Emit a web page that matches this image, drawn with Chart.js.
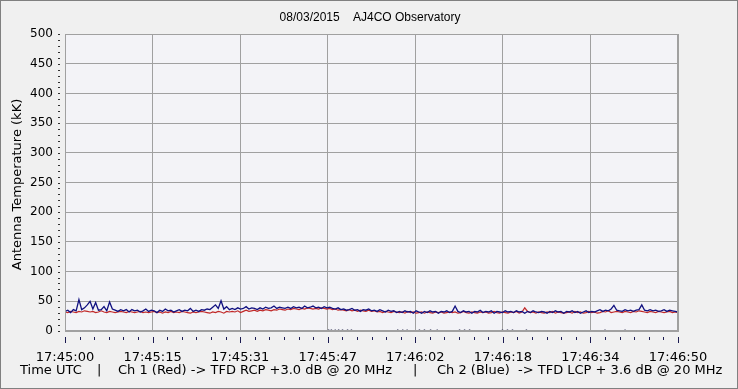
<!DOCTYPE html>
<html>
<head>
<meta charset="utf-8">
<script src="https://cdn.jsdelivr.net/npm/chart.js@4/dist/chart.umd.min.js"></script>
<style>
  html,body{margin:0;padding:0;background:#f0f0f0;}
  canvas{display:block;}
</style>
</head>
<body>
<canvas id="chart" width="738" height="389"></canvas>
<script>
// --------- данные ---------
const TITLE='08/03/2015    AJ4CO Observatory';
const Y_TITLE='Antenna Temperature (kK)';
const TIME_LABELS=['17:45:00','17:45:15','17:45:31','17:45:47','17:46:02','17:46:18','17:46:34','17:46:50'];
const SPAN=110;      // секунд на оси
const STEP=0.5;      // шаг выборки, с
const Y_MAX=500, Y_STEP=50;

// Ch 2 (Blue) LCP
const BLUE=[
 33,35,31,36,34,53,36,39,44,50,
 37,48,35,36,41,34,49,37,35,33,
 36,34,36,32,36,34,35,32,34,37,
 33,35,34,31,35,33,37,34,35,32,
 34,36,33,35,34,38,33,35,33,36,
 35,37,36,40,44,38,51,37,41,36,
 38,36,39,37,38,41,37,39,38,36,
 39,37,40,38,39,42,38,40,39,38,
 40,38,41,39,40,38,42,39,40,42,
 39,40,38,41,39,40,38,37,39,36,
 37,35,36,38,35,36,33,36,35,37,
 34,35,33,36,34,32,35,33,34,31,
 33,31,34,32,33,30,34,32,30,33,
 31,34,32,33,30,33,32,34,31,33,
 42,33,31,34,32,33,30,33,32,35,
 31,33,32,34,30,33,32,31,34,32,
 33,31,34,32,33,30,33,31,34,32,
 31,33,32,30,33,31,34,32,33,30,
 33,32,34,31,33,30,32,34,31,33,
 32,34,36,33,35,34,37,43,35,34,
 33,36,34,35,33,35,36,44,35,34,
 36,34,35,33,34,36,33,35,34,33,
 32
];
// Ch 1 (Red) RCP
const RED=[
 32,31,33,32,31,33,32,34,33,32,
 33,31,32,34,32,31,33,32,31,32,
 33,32,31,33,32,31,32,33,31,32,
 31,32,33,31,32,30,32,31,33,31,
 32,31,33,32,31,30,32,31,32,33,
 32,31,30,32,31,33,32,30,33,32,
 33,32,34,31,33,35,33,34,35,33,
 35,34,36,35,34,36,35,37,36,35,
 37,36,38,37,36,38,37,39,38,37,
 38,37,39,38,37,38,36,37,35,36,
 35,34,36,34,35,33,35,34,33,35,
 33,34,32,33,31,33,32,31,33,32,
 31,32,30,33,31,32,30,31,32,30,
 32,31,30,32,31,32,30,31,32,31,
 32,30,31,33,31,30,32,31,30,32,
 31,32,30,31,33,31,30,32,31,30,
 32,31,33,30,32,39,33,31,32,30,
 32,31,30,32,31,33,30,32,31,30,
 31,32,30,33,31,32,30,31,33,31,
 32,30,31,33,32,34,31,32,33,32,
 31,33,32,31,33,32,34,33,32,31,
 33,32,31,33,32,31,32,33,31,32,
 31
];
// редкие точки у нуля
const LOW_T=[47.3,47.8,48.5,49.1,49.8,50.7,51.4,59.7,60.6,61.4,63.6,64.5,65.6,66.8,70.8,71.7,72.6,78.5,79.4,80.3,82.8,96.9,100.5];
const LOW_V=1.5;

const xy=arr=>arr.map((v,i)=>({x:i*STEP,y:v}));

// --------- оформление ---------
const GRID='#a0a0a0';
const TICK='#1a1a50';

const frame={
  id:'frame',
  beforeDraw(c){
    const g=c.ctx, a=c.chartArea;
    g.save();
    g.fillStyle='#f0f0f0'; g.fillRect(0,0,c.width,c.height);
    g.fillStyle='#f3f3f7'; g.fillRect(a.left,a.top,a.right-a.left,a.bottom-a.top);
    g.restore();
  },
  afterDraw(c){
    const g=c.ctx, a=c.chartArea, xs=c.scales.x, ys=c.scales.y;
    g.save();
    // рамка графика
    g.strokeStyle=GRID; g.lineWidth=1;
    g.strokeRect(a.left+0.5,a.top+0.5,a.right-a.left-1,a.bottom-a.top-1);
    // метки оси X
    g.strokeStyle=TICK;
    const maj=SPAN/(TIME_LABELS.length-1);
    for(let i=0;i<(TIME_LABELS.length-1)*6+1;i++){
      const px=Math.round(xs.getPixelForValue(i*maj/6))+0.5;
      g.beginPath();
      g.moveTo(px,a.bottom+6);
      g.lineTo(px,a.bottom+(i%6===0?12:9));
      g.stroke();
    }
    // мелкие метки оси Y
    g.strokeStyle='#303030';
    for(let v=0;v<=Y_MAX;v+=10){
      const py=Math.round(ys.getPixelForValue(v))+0.5;
      g.beginPath(); g.moveTo(a.left-7,py); g.lineTo(a.left-5,py); g.stroke();
    }
    // заголовок
    g.fillStyle='#000';
    g.font='12px "Liberation Sans"';
    g.textAlign='center'; g.textBaseline='middle';
    g.fillText(TITLE,370,18);
    // подпись оси Y
    g.save();
    g.translate(18,(a.top+a.bottom)/2+2);
    g.rotate(-Math.PI/2);
    g.font='13px "DejaVu Sans"';
    g.fillText(Y_TITLE,0,0);
    g.restore();
    // нижняя подпись
    g.font='13px "DejaVu Sans"';
    g.textAlign='left';
    const yb=371;
    g.fillText('Time UTC',20,yb);
    g.fillText('|',97,yb);
    g.fillText('Ch 1 (Red) -> TFD RCP +3.0 dB @ 20 MHz',118,yb);
    g.fillText('|',413,yb);
    g.fillText('Ch 2 (Blue)  -> TFD LCP + 3.6 dB @ 20 MHz',437,yb);
    // внешняя рамка
    g.strokeStyle='#808080'; g.lineWidth=1;
    g.strokeRect(0.5,0.5,c.width-1,c.height-1);
    g.restore();
  }
};

new Chart(document.getElementById('chart'),{
  type:'line',
  data:{
    datasets:[
      {label:'Ch 2 (Blue)',data:xy(BLUE),borderColor:'#101080',borderWidth:1.3,pointRadius:0,tension:0},
      {label:'Ch 1 (Red)',data:xy(RED),borderColor:'#c02828',borderWidth:1.2,pointRadius:0,tension:0},
      {label:'low',data:LOW_T.map(t=>({x:t,y:LOW_V})),showLine:false,pointRadius:1,pointStyle:'rect',
       borderWidth:0,backgroundColor:'#404060'}
    ]
  },
  options:{
    responsive:false,animation:false,
    layout:{padding:{top:34,right:60,left:0,bottom:0}},
    plugins:{legend:{display:false},tooltip:{enabled:false}},
    scales:{
      x:{
        type:'linear',min:0,max:SPAN,
        afterFit(s){s.height=58;},
        afterBuildTicks(s){s.ticks=TIME_LABELS.map((l,i)=>({value:i*SPAN/(TIME_LABELS.length-1)}));},
        grid:{color:GRID,drawTicks:false},
        border:{color:GRID},
        ticks:{autoSkip:false,maxRotation:0,padding:19,color:'#000',
          font:{family:'DejaVu Sans',size:13},
          callback:(v,i)=>TIME_LABELS[i]}
      },
      y:{
        min:0,max:Y_MAX,
        afterFit(s){s.width=65;},
        grid:{color:GRID,drawTicks:false},
        border:{color:GRID},
        ticks:{stepSize:Y_STEP,padding:12,color:'#000',font:{family:'DejaVu Sans',size:12}}
      }
    }
  },
  plugins:[frame]
});
</script>
</body>
</html>
